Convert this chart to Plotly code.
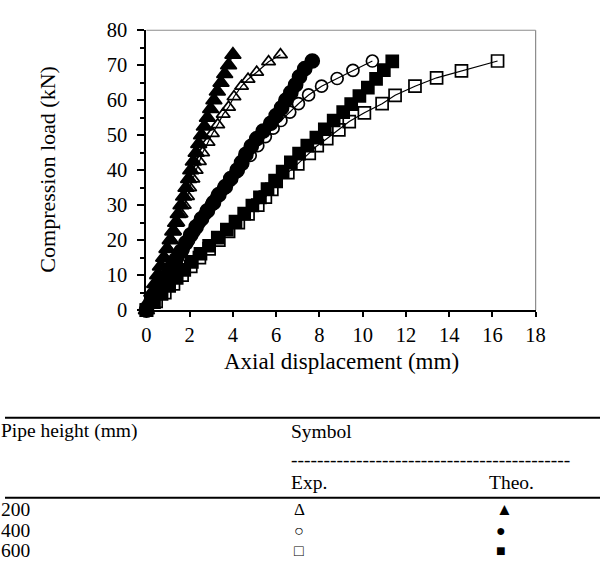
import plotly.graph_objects as go

# ---------------- DATA ----------------
# Theoretical / experimental load-displacement curves (x: mm, y: kN)
theo200_x = [0, 0.12, 0.25, 0.38, 0.52, 0.65, 0.8, 0.95, 1.1, 1.22, 1.35, 1.47, 1.6, 1.72, 1.83,
             1.95, 2.05, 2.17, 2.3, 2.42, 2.55, 2.68, 2.82, 2.97, 3.12, 3.28, 3.45, 3.62, 3.8, 4.0]
theo200_y = [0, 2.5, 5, 7.5, 10, 12.5, 15, 17.5, 20, 22.5, 25, 27.5, 30, 32.5, 35,
             37.5, 40, 42.5, 45, 47.5, 50, 52.5, 55, 57.5, 60, 62.5, 65, 67.5, 70, 73]

exp200_x = [0, 0.1, 0.3, 0.45, 0.6, 0.72, 0.85, 1.0, 1.15, 1.3, 1.45, 1.6, 1.75, 1.9, 2.0,
            2.15, 2.3, 2.45, 2.6, 2.85, 3.05, 3.3, 3.55, 3.8, 4.05, 4.4, 4.7, 5.1, 5.65, 6.2]
exp200_y = [0, 2, 5, 7.5, 10, 12.5, 15, 17.5, 20, 22.5, 25, 27.5, 30, 32.5, 35,
            37.5, 40, 42.5, 45, 48, 50.5, 53, 56, 58, 61, 64, 66, 68, 71, 73]

theo400_x = [0, 0.22, 0.45, 0.68, 0.9, 1.12, 1.35, 1.6, 1.82, 2.05, 2.3, 2.55, 2.82, 3.1, 3.35,
             3.65, 3.9, 4.2, 4.4, 4.6, 4.85, 5.1, 5.4, 5.75, 6.0, 6.25, 6.45, 6.68, 6.9, 7.08, 7.32, 7.67]
theo400_y = [0, 2.4, 4.8, 7.2, 9.6, 12, 14.4, 16.8, 19.2, 21.5, 23.8, 26.1, 28.4, 30.7, 33,
             35.3, 37.6, 40, 42.2, 44.5, 46.8, 49, 51.2, 53.4, 55.6, 57.8, 60, 62.2, 64.4, 66.7, 69, 71.2]

exp400_x = [0, 0.25, 0.5, 0.75, 1.0, 1.22, 1.45, 1.7, 1.95, 2.2, 2.45, 2.72, 3.0, 3.25, 3.55,
            3.85, 4.15, 4.45, 4.8, 5.15, 5.5, 5.86, 6.22, 6.63, 7.03, 7.5, 8.1, 8.82, 9.55, 10.45]
exp400_y = [0, 2.5, 5, 7.5, 10, 12.5, 15, 17.5, 20, 22.5, 25, 27.5, 30, 32.3, 34.6,
            37, 39.4, 41.8, 44.2, 47, 49.6, 52, 54.2, 56.6, 59, 61.5, 64, 66.2, 68.5, 71.2]

theo600_x = [0, 0.35, 0.7, 1.05, 1.4, 1.75, 2.1, 2.5, 2.9, 3.3, 3.72, 4.12, 4.52, 4.9, 5.25, 5.6,
             5.95, 6.3, 6.68, 7.06, 7.44, 7.86, 8.25, 8.66, 9.1, 9.47, 9.85, 10.24, 10.62, 10.98, 11.37]
theo600_y = [0, 2.3, 4.6, 6.9, 9.2, 11.5, 13.8, 16.1, 18.4, 20.7, 23, 25.3, 27.6, 29.9, 32.2, 34.6,
             37, 39.6, 42.2, 44.7, 47, 49.3, 51.7, 54.2, 56.6, 58.9, 61.2, 63.6, 66.1, 68.6, 71.1]

exp600_x = [0, 0.45, 0.85, 1.25, 1.65, 2.05, 2.45, 2.9, 3.35, 3.8, 4.25, 4.7, 5.15, 5.5, 5.8,
            6.0, 6.54, 7.0, 7.53, 7.9, 8.34, 8.9, 9.38, 10.08, 10.9, 11.5, 12.42, 13.42, 14.57, 16.24]
exp600_y = [0, 2.5, 5, 7.5, 10, 12.5, 15, 17.5, 20, 22.5, 25, 27.5, 30, 32.3, 34.5,
            36.8, 39.3, 41.8, 44.8, 47, 49, 51.5, 53.9, 56.4, 59, 61.4, 64, 66.4, 68.4, 71.2]

x_ticks = [0, 2, 4, 6, 8, 10, 12, 14, 16, 18]
y_ticks = [0, 10, 20, 30, 40, 50, 60, 70, 80]

x_title = "Axial displacement (mm)"
y_title = "Compression load (kN)"

# Legend table
table_head = ["Pipe height (mm)", "Symbol"]
table_sub = ["Exp.", "Theo."]
pipe_heights = ["200", "400", "600"]
exp_symbols = ["\u0394", "\u25CB", "\u25A1"]
theo_symbols = ["\u25B2", "\u25CF", "\u25A0"]

# ---------------- FIGURE ----------------
W, H = 610, 575
FONT = "Liberation Serif"
FS = 19.5
TICK_FS = 20.5


def PX(px):
    return px / W


def PY(py):
    return 1 - py / H


fig = go.Figure()

series = [
    (exp200_x, exp200_y, "triangle-up-open", 12),
    (exp400_x, exp400_y, "circle-open", 12),
    (exp600_x, exp600_y, "square-open", 12),
    (theo200_x, theo200_y, "triangle-up", 14),
    (theo400_x, theo400_y, "circle", 14),
    (theo600_x, theo600_y, "square", 12),
]
for xs, ys, sym, sz in series:
    fig.add_trace(go.Scatter(
        x=xs, y=ys, mode="lines+markers",
        line=dict(color="black", width=1.2),
        marker=dict(symbol=sym, size=sz, color="black",
                    line=dict(color="black", width=1.7)),
        cliponaxis=False, showlegend=False,
    ))

L, R, T, B = 145, 544, 20, 311
fig.update_layout(
    width=W, height=H,
    margin=dict(l=0, r=0, t=0, b=0),
    paper_bgcolor="white", plot_bgcolor="white",
    font=dict(family=FONT, size=FS, color="black"),
    showlegend=False,
    xaxis=dict(domain=[PX(L), PX(R)], range=[0, 18], tickvals=x_ticks,
               ticks="outside", ticklen=5, tickwidth=1.5, tickcolor="black",
               showline=True, linewidth=2, linecolor="black",
               showgrid=False, zeroline=False, fixedrange=True,
               tickfont=dict(family=FONT, size=TICK_FS)),
    yaxis=dict(domain=[PY(B), PY(T)], range=[0, 80], tickvals=y_ticks,
               ticks="outside", ticklen=7, tickwidth=1.5, tickcolor="black",
               ticklabelstandoff=6,
               minor=dict(dtick=5, ticks="outside", ticklen=4, tickwidth=1.5, tickcolor="black"),
               showline=True, linewidth=2, linecolor="black",
               showgrid=False, zeroline=False, fixedrange=True,
               tickfont=dict(family=FONT, size=TICK_FS)),
)

shapes = [
    # grey plot-area border (top & right)
    dict(type="line", xref="paper", yref="paper", x0=PX(L), x1=PX(R), y0=PY(T), y1=PY(T),
         line=dict(color="#8c8c8c", width=1.2)),
    dict(type="line", xref="paper", yref="paper", x0=PX(R), x1=PX(R), y0=PY(T), y1=PY(B),
         line=dict(color="#8c8c8c", width=1.2)),
    # table rules
    dict(type="line", xref="paper", yref="paper", x0=0, x1=1, y0=PY(423), y1=PY(423),
         line=dict(color="black", width=2)),
    dict(type="line", xref="paper", yref="paper", x0=0, x1=1, y0=PY(506), y1=PY(506),
         line=dict(color="black", width=2)),
]
fig.update_layout(shapes=shapes)

ann = []


def txt(s, x, y, anchor="left", size=FS, angle=0):
    ann.append(dict(text=s, x=PX(x), y=PY(y), xref="paper", yref="paper",
                    xanchor=anchor, yanchor="middle", showarrow=False, textangle=angle,
                    borderpad=0,
                    font=dict(family=FONT, size=size, color="black")))


txt(x_title, 345, 364, anchor="center", size=23)
txt(y_title, 44, 164, anchor="center", size=22, angle=-90)

txt(table_head[0], -5, 437)
txt(table_head[1], 292, 437)
txt("-" * 43, 292, 466)
txt(table_sub[0], 292, 490)
txt(table_sub[1], 495, 490)
row_y = [518, 540, 561]
for h, e, t, y in zip(pipe_heights, exp_symbols, theo_symbols, row_y):
    txt(h, -5, y)
    txt(e, 295, y, size=17 if e == "\u0394" else 16)
    txt(t, 502, y, size=17 if t == "\u25B2" else 16)

fig.update_layout(annotations=ann)

fig.write_html("out.html")
